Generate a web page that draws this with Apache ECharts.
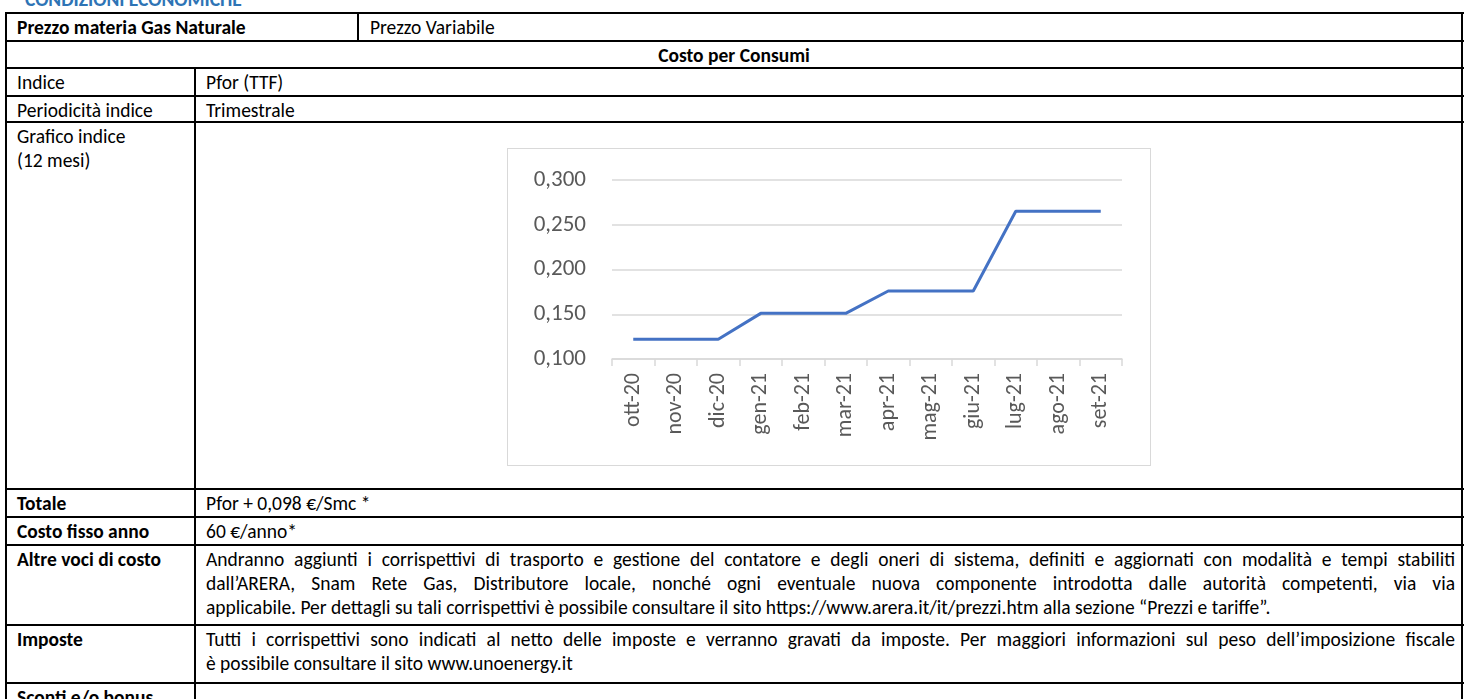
<!DOCTYPE html>
<html>
<head>
<meta charset="utf-8">
<script src="https://cdn.jsdelivr.net/npm/echarts@6/dist/echarts.min.js"></script>
<style>
html,body{margin:0;padding:0;background:#fff;}
#page{position:relative;width:1468px;height:699px;overflow:hidden;background:#fff;font-family:Calibri,Carlito,Lato,sans-serif;font-size:19.5px;color:#000;}
.hl{position:absolute;height:2px;background:#000;}
.vl{position:absolute;width:2px;background:#000;}
.t{position:absolute;white-space:nowrap;line-height:24px;}
.b{font-weight:bold;}
.just{text-align:justify;text-align-last:justify;white-space:normal;}
#chartbox{position:absolute;border:1px solid #D9D9D9;box-sizing:border-box;background:#fff;}
#chart{width:100%;height:100%;}
</style>
</head>
<body>
<div id="page">
  <div id="table"></div>
  <div id="chartbox" style="left:507px;top:148px;width:644px;height:318px;"><div id="chart"></div></div>
</div>
<script>
// ---- chart data ----
var categories = ['ott-20','nov-20','dic-20','gen-21','feb-21','mar-21','apr-21','mag-21','giu-21','lug-21','ago-21','set-21'];
var pforValues = [0.122,0.122,0.122,0.151,0.151,0.151,0.176,0.176,0.176,0.265,0.265,0.265];
var yTicks = [0.100,0.150,0.200,0.250,0.300];

// ---- table texts ----
var titleText = 'CONDIZIONI ECONOMICHE';
var rowLabels = ['Indice','Periodicità indice','Grafico indice','(12 mesi)','Totale','Costo fisso anno','Altre voci di costo','Imposte','Sconti e/o bonus'];
var altreLines = [
 'Andranno aggiunti i corrispettivi di trasporto e gestione del contatore e degli oneri di sistema, definiti e aggiornati con modalità e tempi stabiliti',
 'dall’ARERA, Snam Rete Gas, Distributore locale, nonché ogni eventuale nuova componente introdotta dalle autorità competenti, via via',
 'applicabile. Per dettagli su tali corrispettivi è possibile consultare il sito https://www.arera.it/it/prezzi.htm alla sezione “Prezzi e tariffe”.'
];
var imposteLines = [
 'Tutti i corrispettivi sono indicati al netto delle imposte e verranno gravati da imposte. Per maggiori informazioni sul peso dell’imposizione fiscale',
 'è possibile consultare il sito www.unoenergy.it'
];

// ---- layout ----
var L = 6, R = 1462, COL = 195, SPLIT1 = 358, LH = 24;
var Y = {top:13, r1:41, r2:68, r3:96, r4:122, graf:489, tot:517, costo:545, altre:625, imp:683, end:760};
var html = '';
function h(x1,x2,y){ html += '<div class="hl" style="left:'+x1+'px;width:'+(x2-x1+2)+'px;top:'+(y-1)+'px"></div>'; }
function v(x,y1,y2){ html += '<div class="vl" style="left:'+(x-1)+'px;top:'+(y1-1)+'px;height:'+(y2-y1+2)+'px"></div>'; }
function txt(x,y,s,bold,extra){ html += '<div class="t'+(bold?' b':'')+'" style="left:'+x+'px;top:'+y+'px;'+(extra||'')+'">'+s+'</div>'; }
function jline(x,w,y,s,last){ html += '<div class="t'+(last?'':' just')+'" style="left:'+x+'px;width:'+w+'px;top:'+y+'px">'+s+'</div>'; }

txt(25, -13, titleText, true, 'color:#2E74B5;');
[Y.top,Y.r1,Y.r2,Y.r3,Y.r4,Y.graf,Y.tot,Y.costo,Y.altre,Y.imp].forEach(function(y){ h(L,R,y); });
v(L,Y.top,Y.end); v(R,Y.top,Y.end);
v(SPLIT1,Y.top,Y.r1);
v(COL,Y.r2,Y.end);

var tx1 = 17, tx2 = 206, tw2 = R - 7 - tx2, dy = 2;
txt(tx1, Y.top+dy, 'Prezzo materia Gas Naturale', true);
txt(SPLIT1+12, Y.top+dy, 'Prezzo Variabile', false);
txt(L, Y.r1+dy, 'Costo per Consumi', true, 'width:'+(R-L)+'px;text-align:center;');
txt(tx1, Y.r2+dy, rowLabels[0]); txt(tx2, Y.r2+dy, 'Pfor (TTF)');
txt(tx1, Y.r3+dy, rowLabels[1]); txt(tx2, Y.r3+dy, 'Trimestrale');
txt(tx1, Y.r4+dy, rowLabels[2]); txt(tx1, Y.r4+dy+LH, rowLabels[3]);
txt(tx1, Y.graf+dy, rowLabels[4], true); txt(tx2, Y.graf+dy, 'Pfor + 0,098 €/Smc *');
txt(tx1, Y.tot+dy, rowLabels[5], true); txt(tx2, Y.tot+dy, '60 €/anno*');
txt(tx1, Y.costo+dy, rowLabels[6], true);
altreLines.forEach(function(s,i){ jline(tx2, tw2, Y.costo+dy+i*LH, s, i===altreLines.length-1); });
txt(tx1, Y.altre+dy, rowLabels[7], true);
imposteLines.forEach(function(s,i){ jline(tx2, tw2, Y.altre+dy+i*LH, s, i===imposteLines.length-1); });
txt(tx1, Y.imp+dy, rowLabels[8], true);
document.getElementById('table').innerHTML = html;

// ---- chart ----
var chart = echarts.init(document.getElementById('chart'), null, {renderer:'canvas'});
chart.setOption({
  animation:false,
  grid:{left:104, right:28, top:31, bottom:106},
  xAxis:{
    type:'category', data:categories, boundaryGap:true,
    axisLine:{show:true, lineStyle:{color:'#D9D9D9', width:1.5}},
    axisTick:{show:true, alignWithLabel:false, length:7, lineStyle:{color:'#D9D9D9', width:1.5}},
    axisLabel:{rotate:90, margin:14, color:'#595959', fontSize:22, fontFamily:'Calibri, Carlito, Lato, sans-serif', interval:0}
  },
  yAxis:{
    type:'value', min:yTicks[0], max:yTicks[yTicks.length-1], interval:0.05,
    axisLine:{show:false}, axisTick:{show:false},
    splitLine:{lineStyle:{color:'#D9D9D9', width:1.5}},
    axisLabel:{margin:26, color:'#595959', fontSize:23, fontFamily:'Calibri, Carlito, Lato, sans-serif',
      formatter:function(v){ return v.toFixed(3).replace('.', ','); }}
  },
  series:[{type:'line', data:pforValues, symbol:'none', lineStyle:{color:'#4472C4', width:3}, itemStyle:{color:'#4472C4'}}]
});
</script>
</body>
</html>
